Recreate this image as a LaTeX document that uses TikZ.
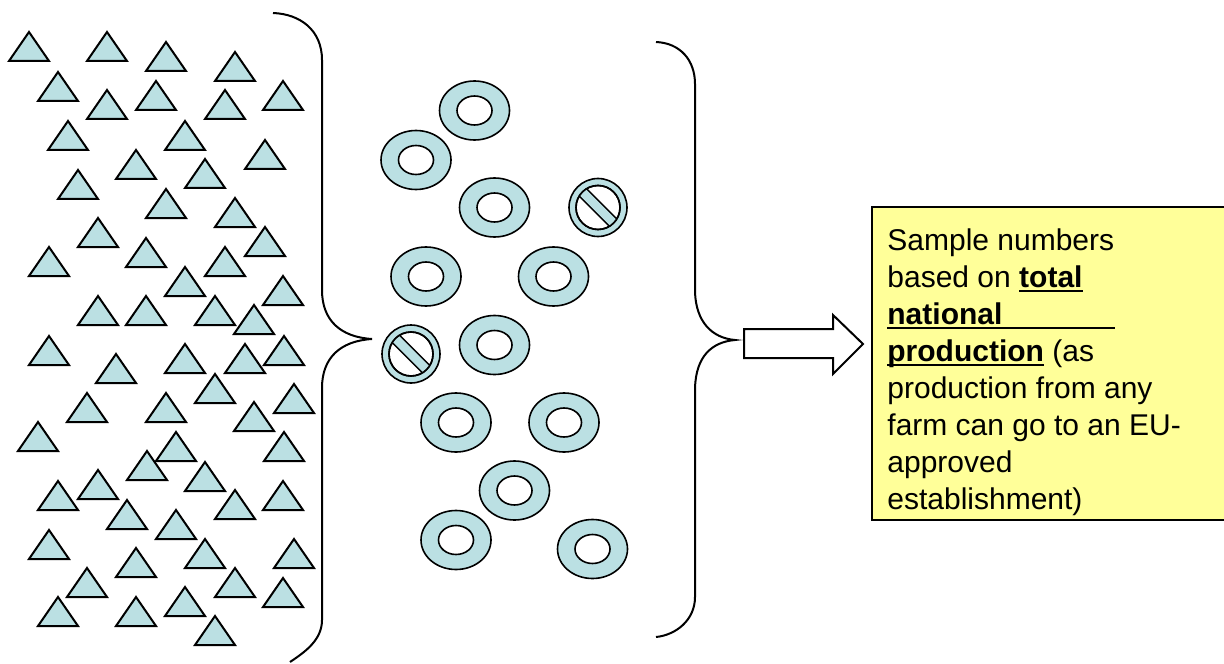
\documentclass[tikz,border=0pt]{standalone}
\usepackage{fontspec}
\setmainfont{Liberation Sans}
\definecolor{pale}{RGB}{187,224,227}
\definecolor{note}{RGB}{255,255,153}
\newcommand{\ulbox}[1]{\setbox0\hbox{#1}\rlap{\rule[-2.6pt]{\wd0}{1pt}}\box0\relax}
\begin{document}
\begin{tikzpicture}[x=0.5pt, y=-0.5pt,
  tri/.style={fill=pale, draw=black, line width=1pt, line join=miter},
  ring/.style={fill=pale, draw=black, line width=0.8pt, even odd rule},
  brace/.style={draw=black, line width=1pt}]
\useasboundingbox (0,0) rectangle (1224,663);
% all farms
\foreach \x/\y in {29/32, 107/32, 166/42, 235/52, 58/72, 156/81, 283/81, 107/90, 225/90,
  68/121, 185/121, 265/140, 136/150, 205/159, 78/170, 166/189, 235/198, 98/218, 265/227,
  49/247, 146/238, 225/247, 185/267, 283/276, 98/296, 146/296, 215/296, 254/305,
  49/336, 116/354, 185/344, 245/344, 284/336, 215/374, 87/393, 166/393, 294/384, 254/402,
  38/422, 176/432, 284/432, 147/451, 205/462, 98/470, 58/481, 235/490, 283/481, 127/500,
  176/510, 49/530, 205/539, 294/539, 136/548, 87/568, 235/568, 283/578, 185/587,
  58/597, 136/597, 215/616} {
  \draw[tri] (\x,\y) -- ++(-20,29) -- ++(40,0) -- cycle;
}
\draw[brace] (273,13) .. controls (300,14) and (322,30) .. (322,60) -- (322,290)
  .. controls (322,320) and (340,337) .. (372,339) .. controls (340,341) and (322,358) .. (322,388)
  -- (322,620) .. controls (322,640) and (305,652) .. (290,662);
% approved establishments
\foreach \x/\y in {474.5/110.5, 416/160, 494.5/207.5, 426/276.5, 553.5/276.5, 494.5/345,
  456/422.5, 564/422.5, 514.5/490.5, 456/540, 592.5/549} {
  \draw[ring] (\x,\y) ellipse [x radius=35, y radius=29.5]
    (\x,\y) ellipse [x radius=17.5, y radius=14.5];
}
% excluded ones
\foreach \x/\y in {598/207.5, 411/354} {
  \draw[ring] (\x,\y) circle [radius=29] (\x,\y) circle [radius=22];
  \begin{scope}
    \clip (\x,\y) circle [radius=22];
    \draw[line width=6pt] (\x-30,\y-30) -- (\x+30,\y+30);
    \draw[pale, line width=4.4pt] (\x-30,\y-30) -- (\x+30,\y+30);
  \end{scope}
  \draw[line width=0.8pt] (\x,\y) circle [radius=22];
}
\draw[brace] (656,42) .. controls (680,43) and (695,60) .. (695,84) -- (695,292)
  .. controls (696,322) and (712,338) .. (735,340) .. controls (712,342) and (696,356) .. (695,388)
  -- (695,597) .. controls (695,620) and (676,635) .. (656,637);
% arrow to the note
\draw[fill=white, line width=1pt, line join=miter] (744,329) -- (833,329) -- (833,315) -- (863,344)
  -- (833,374) -- (833,358) -- (744,358) -- cycle;
\fill[note] (872,207) rectangle (1224,520);
\draw[line width=0.8pt] (1226,207) -- (872,207) -- (872,520) -- (1226,520);
\node[anchor=north west, align=left, inner sep=0pt, font=\fontsize{15}{18.5}\selectfont] (txt) at (887,228)
  {Sample numbers\\
   based on \ulbox{\textbf{total}}\\
   \ulbox{\makebox[114pt][l]{\textbf{national}}}\\
   \ulbox{\textbf{production}} (as\\
   production from any\\
   farm can go to an EU-\\
   approved\\
   establishment)};
\end{tikzpicture}
\end{document}
